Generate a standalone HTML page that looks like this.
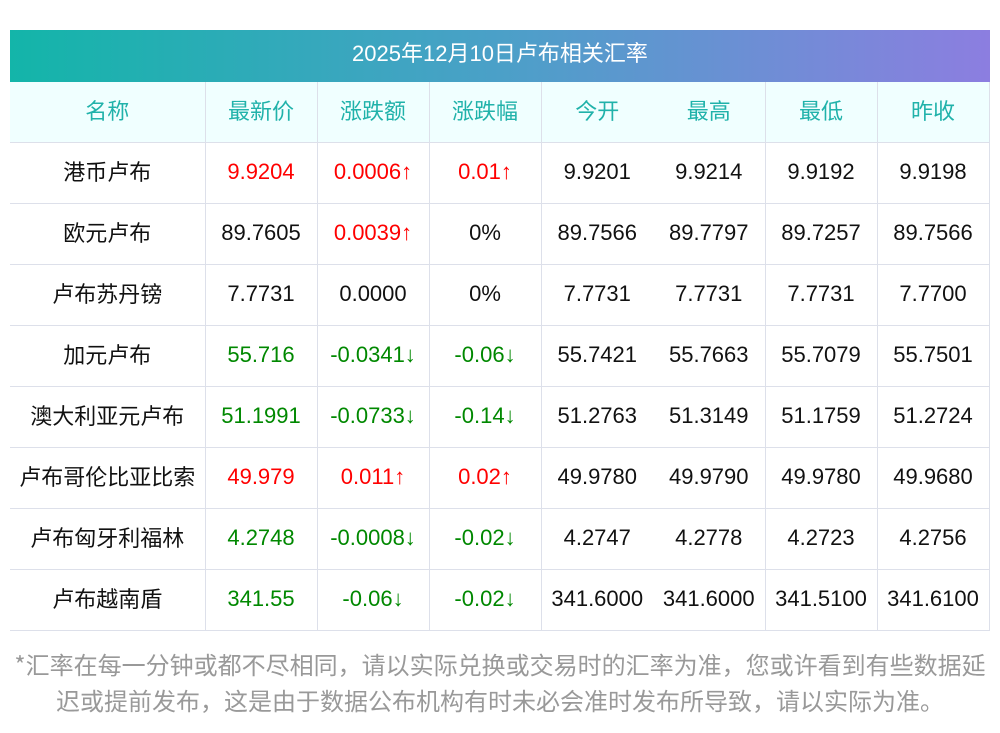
<!DOCTYPE html>
<html><head><meta charset="utf-8"><style>
body{margin:0;background:#fff;font-family:"Liberation Sans","Noto Sans CJK SC",sans-serif;}
.t{position:absolute;left:10px;top:30px;width:980px;}
.title{height:52px;background:linear-gradient(90deg,#13b5a9,#4ba0c8 50%,#8c7ee0);color:#fff;font-size:22px;line-height:48px;text-align:center;}
table{border-collapse:collapse;width:979px;table-layout:fixed;}
td{height:57px;border-bottom:1px solid #dde0ea;border-right:1px solid #dde0ea;text-align:center;font-size:22px;color:#111;padding:0 0 3px 0;line-height:26px;}
td.c{font-family:"Noto Sans CJK SC",sans-serif;height:56px;padding-bottom:4px;}
td.nl{border-right:none;}
tr.h td{background:#f0ffff;color:#20b2aa;font-family:"Noto Sans CJK SC",sans-serif;height:56px;padding-bottom:4px;}
.r{color:#f00}.g{color:#080}
.a{font-family:"DejaVu Sans",sans-serif;font-size:20px;}
.f{position:absolute;left:0;top:646px;width:1000px;text-align:center;font-size:24px;line-height:36px;color:#999;font-family:"Noto Sans CJK SC",sans-serif;}
</style></head><body>
<div class="t"><div class="title">2025年12月10日卢布相关汇率</div>
<table>
<colgroup><col style="width:195px"><col style="width:112px"><col style="width:112px"><col style="width:112px"><col style="width:112px"><col style="width:112px"><col style="width:112px"><col style="width:112px"></colgroup>
<tr class="h"><td>名称</td><td>最新价</td><td>涨跌额</td><td>涨跌幅</td><td class="nl">今开</td><td>最高</td><td>最低</td><td>昨收</td></tr>
<tr><td class="c">港币卢布</td><td class="r">9.9204</td><td class="r">0.0006↑</td><td class="r">0.01↑</td><td class="nl">9.9201</td><td>9.9214</td><td>9.9192</td><td>9.9198</td></tr>
<tr><td class="c">欧元卢布</td><td>89.7605</td><td class="r">0.0039↑</td><td>0%</td><td class="nl">89.7566</td><td>89.7797</td><td>89.7257</td><td>89.7566</td></tr>
<tr><td class="c">卢布苏丹镑</td><td>7.7731</td><td>0.0000</td><td>0%</td><td class="nl">7.7731</td><td>7.7731</td><td>7.7731</td><td>7.7700</td></tr>
<tr><td class="c">加元卢布</td><td class="g">55.716</td><td class="g">-0.0341↓</td><td class="g">-0.06↓</td><td class="nl">55.7421</td><td>55.7663</td><td>55.7079</td><td>55.7501</td></tr>
<tr><td class="c">澳大利亚元卢布</td><td class="g">51.1991</td><td class="g">-0.0733↓</td><td class="g">-0.14↓</td><td class="nl">51.2763</td><td>51.3149</td><td>51.1759</td><td>51.2724</td></tr>
<tr><td class="c">卢布哥伦比亚比索</td><td class="r">49.979</td><td class="r">0.011↑</td><td class="r">0.02↑</td><td class="nl">49.9780</td><td>49.9790</td><td>49.9780</td><td>49.9680</td></tr>
<tr><td class="c">卢布匈牙利福林</td><td class="g">4.2748</td><td class="g">-0.0008↓</td><td class="g">-0.02↓</td><td class="nl">4.2747</td><td>4.2778</td><td>4.2723</td><td>4.2756</td></tr>
<tr><td class="c">卢布越南盾</td><td class="g">341.55</td><td class="g">-0.06↓</td><td class="g">-0.02↓</td><td class="nl">341.6000</td><td>341.6000</td><td>341.5100</td><td>341.6100</td></tr>
</table></div>
<div class="f">*汇率在每一分钟或都不尽相同，请以实际兑换或交易时的汇率为准，您或许看到有些数据延<br>迟或提前发布，这是由于数据公布机构有时未必会准时发布所导致，请以实际为准。</div>
</body></html>
